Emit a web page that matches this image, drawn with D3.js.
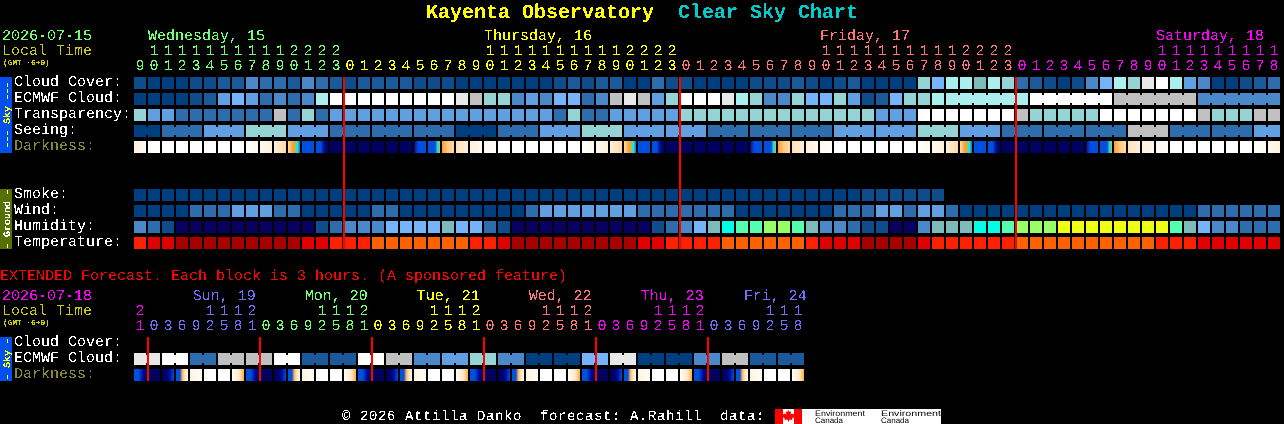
<!DOCTYPE html>
<html><head><meta charset="utf-8">
<script src="https://cdnjs.cloudflare.com/ajax/libs/d3/7.8.5/d3.min.js"></script>
<style>
html,body{margin:0;padding:0;background:#000;overflow:hidden}
svg{display:block}
text{font-family:"Liberation Mono",monospace;font-size:15px;white-space:pre;text-rendering:geometricPrecision}
</style></head><body><div id="chart"></div>
<script>
// palette index meaning: shared colour levels of the clear sky chart
const levels = ["#003F7F","#0E4C8C","#1A5A9A","#2D6CAD","#4A88CA","#5F9FE2","#75B4FA","#94D4D4","#ABEEEE","#FFFFFF","#E8E8E8","#C0C0C0","#7DBBBB","#070060","#00FFE6","#55FFB0","#99FF66","#EEFF14","#A80000","#E00000","#FF2000","#FF6000"];

const cloudCover = [1,0,0,0,1,1,2,2,4,3,3,2,4,3,2,1,2,2,2,2,1, 1,1,0,0,0,0,0,0,0,1,2,1,2,2,0,0,3,1,1,0,0,0,0,1,1,1,2,1,0,1,2, 0,0,0,0,7,6,8,8,12,8,7,3,2,1,0,1,4,6,8,7,10,9,8,5,4,0,0,1,2,3];
const ecmwf = [0,0,0,0,1,2,5,6,5,3,4,3,4,8,9,9,9,9,9,9,9, 9,9,10,11,7,7,4,5,4,6,6,3,4,11,10,11,5,7,9,9,9,10,8,7,4,4,7,6,6,7,5, 1,2,6,7,7,8,8,8,8,8,8,8,9,9,9,9,9,9,11,11,11,11,11,11,4,4,4,4,4,4];
const ecmwfGroups = [1,1,1,1,1,1,1,1,1,1,1,1,1,1,1,1,1,1,1,1,1,1,1,1,1,1,1,1,1,1,1,1,1,1,1,1,1,1,1,1,1,1,1,1,1,1,1,1,1,1,1,1,1,1,1,1,1,1,6,6,6,6];
const transparency = [7,5,5,3,3,3,3,3,3,3,11,3,7,3,5,5,5,5,5,5,5, 5,5,5,5,5,5,5,5,5,3,7,3,3,5,5,5,5,5,7,7,7,7,7,7,7,7,7,7,7,7,7, 7,5,5,5,9,9,9,9,9,9,9,11,7,7,7,7,7,9,9,9,9,9,9,9,11,7,7,7,11,11];
const seeing = [0,0,3,3,3,5,5,5,7,7,7,5,5,5,3,3,3,3,3,3,3,3,3,0,0,0,3,3,3,5,5,5,7,7,7,5,5,5,5,5,5,3,3,3,3,3,3,3,3,3,5,5,5,5,5,5,7,7,7,5,5,5,3,3,3,3,3,3,3,3,3,11,11,11,3,3,3,3,3,3,5,5];
const seeingGroups = [2,3,3,3,3,3,3,3,3,3,3,3,3,3,3,3,3,3,3,3,3,3,3,3,3,3,3,2];
const darkness = [[1,.3],[.3,0],[0,0],[0,0],[0,0],[0,0],[0,0],[0,0],[0,.5],[.5,1],[1,1.8],[1.8,2.4,3,3.3,4,4.6],[5,5],[5,5,5,5.8,6.4,6.9],
 [7,7],[7,7],[7,7],[7,7],[7,7],[7,7],[6.6,5.4,5,5,5,5],[5,5,5,5,4,3.2],
 [3,2.2,1.8],[1.6,1],[1,.5],[.5,0],[0,0],[0,0],[0,0],[0,0],[0,0],[0,0],[0,.5],[.5,1],[1,1.8],[1.8,2.4,3,3.3,4,4.6],[5,5],[5,5,5,5.8,6.4,6.9],
 [7,7],[7,7],[7,7],[7,7],[7,7],[7,7],[6.6,5.4,5,5,5,5],[5,5,5,5,4,3.2],
 [3,2.2,1.8],[1.6,1],[1,.5],[.5,0],[0,0],[0,0],[0,0],[0,0],[0,0],[0,0],[0,.5],[.5,1],[1,1.8],[1.8,2.4,3,3.3,4,4.6],[5,5],[5,5,5,5.8,6.4,6.9],
 [7,7],[7,7],[7,7],[7,7],[7,7],[7,7],[6.6,5.4,5,5,5,5],[5,5,5,5,4,3.2],
 [3,2.2,1.8],[1.6,1],[1,.5],[.5,0],[0,0],[0,0],[0,0],[0,0],[0,0],[0,0],[0,.5],[.5,1]];
const smoke = [0,0,0,0,0,0,0,0,0,0,0,0,0,0,0,0,0,0,0,0,0,0,0,0,0,0,0,0,0,0,0,0,0,0,0,0,0,0,0,0,0,0,0,0,0,0,0,0,0,0,0,0,1,1,1,1,1,1];
const wind = [0,0,0,0,3,3,3,5,5,5,3,3,0,0,0,0,0,3,3,0,0, 0,0,0,0,0,0,0,3,5,5,5,5,5,5,5,3,3,3,3,3,3,3,0,0,0,0,0,0,0,3,3, 3,5,5,3,5,5,3,0,0,0,0,0,0,0,0,0,0,0,0,0,0,0,0,0,3,3,3,3,3,3];
const humidity = [4,3,1,13,13,13,13,13,13,13,13,13,13,1,3,4,4,4,6,6,6, 6,12,6,6,3,1,13,13,13,13,13,13,13,13,13,13,1,3,4,6,12,14,15,15,16,16,15,12,4,4,3, 1,1,13,13,4,12,12,12,14,14,15,16,16,16,17,17,17,17,17,17,17,17,15,12,6,4,4,3,3,3];
const temperature = [20,19,19,18,18,18,18,18,18,18,18,18,19,19,20,20,20,21,21,21,21, 21,21,21,20,20,19,18,18,18,18,18,18,18,18,18,19,19,20,20,20,20,21,21,21,21,21,21,20,19,19,19, 18,18,18,18,19,20,20,20,20,20,20,21,21,21,21,21,21,21,21,21,21,20,20,20,19,19,19,19,19,19];

const extEcmwf = [10,10,9,9,3,3,11,11,11,11,9,9,2,2,2,2,9,9,11,11,4,4,5,5,7,7,4,4,0,0,0,0,6,6,10,10,0,0,0,0,4,4,11,11,2,2,2,2];
const extGroups = [2,2,2,2,2,2,2,2,2,2,2,2,2,2,2,2,2,2,2,2,2,2,2,2];
const extDarkCycle = [[5,5,5,5.6,6.2,6.5],[7,7],[7,7,6.8,6.2,5.6,5],[5,5,5,2.8,1.8,1,.8],[.8,.3],[0,0],[0,0],[.2,.8,1.4,2.8]];
const extDarkness = [...extDarkCycle,...extDarkCycle,...extDarkCycle,...extDarkCycle,...extDarkCycle,...extDarkCycle];

const darkStops = [0,1,2,3,4,4.6,5,6,7];
const darkColors = ["#FFFFFF","#FFF0DC","#FFD59A","#FF9F2A","#10E8D8","#0A70E8","#0050E0","#00089A","#000060"];

const hourStart = 9;
const dayColors = {wed:"#70FF70",thu:"#FFFF00",fri:"#FF7575",sat:"#FF00FF",sun:"#7070FF"};
const topDayNames = [["Wednesday, 15",1,"wed"],["Thursday, 16",25,"thu"],["Friday, 17",49,"fri"],["Saturday, 18",73,"sat"]];
const topBoundaries = [15,39,63];
const topColors = ["wed","thu","fri","sat"];
const extHours = [21,0,3,6,9,12,15,18,21,0,3,6,9,12,15,18,21,0,3,6,9,12,15,18,21,0,3,6,9,12,15,18,21,0,3,6,9,12,15,18,21,0,3,6,9,12,15,18];
const extDayNames = [["Sun, 19",4.2,"sun"],["Mon, 20",12.2,"wed"],["Tue, 21",20.2,"thu"],["Wed, 22",28.2,"fri"],["Thu, 23",36.2,"sat"],["Fri, 24",43.55,"sun"]];
const extBoundaries = [1,9,17,25,33,41];
const extColors = ["sat","sun","wed","thu","fri","sat","sun"];
const extNow = [1,9,17,25,33,41];

const W = 1284, H = 424;
const svg = d3.select("#chart").append("svg").attr("width",W).attr("height",H);
svg.append("rect").attr("width",W).attr("height",H).attr("fill","#000");
const defs = svg.append("defs");
const crisp = defs.append("filter").attr("id","crisp").attr("x","-5%").attr("y","-20%").attr("width","110%").attr("height","140%");
crisp.append("feComponentTransfer").append("feFuncA").attr("type","discrete").attr("tableValues","0 1");

const xCol = d3.scaleLinear().domain([0,82]).range([134,1282]);
const cell = 12, bridge = 8;
const darkScale = d3.scaleLinear().domain(darkStops).range(darkColors).interpolate(d3.interpolateRgb).clamp(true);

const cells = svg.append("g").attr("shape-rendering","crispEdges");
function drawRow(values, y, groups){
  const g = cells.append("g");
  g.selectAll("rect.c").data(values).join("rect").attr("class","c")
    .attr("x",(d,i)=>xCol(i)).attr("y",y).attr("width",cell).attr("height",cell)
    .attr("fill",d=>levels[d]);
  if(!groups) return;
  let pos=0; const links=[];
  groups.forEach(n=>{ for(let k=0;k<n-1;k++) links.push(pos+k); pos+=n; });
  g.selectAll("rect.b").data(links).join("rect").attr("class","b")
    .attr("x",i=>xCol(i)+cell).attr("y",y+2).attr("width",xCol(1)-xCol(0)-cell).attr("height",bridge)
    .attr("fill",i=>levels[values[i]]);
}
let gid=0;
function drawDark(values, y){
  const g = cells.append("g");
  values.forEach((stops,i)=>{
    const id="dk"+(gid++);
    const lg=defs.append("linearGradient").attr("id",id);
    stops.forEach((v,k)=>lg.append("stop").attr("offset",k/(stops.length-1)).attr("stop-color",darkScale(v)));
    g.append("rect").attr("x",xCol(i)).attr("y",y).attr("width",cell).attr("height",cell).attr("fill",`url(#${id})`);
  });
}

const yRow = d3.scaleLinear().domain([0,1]).range([77,93]);
drawRow(cloudCover,yRow(0));
drawRow(ecmwf,yRow(1),ecmwfGroups);
drawRow(transparency,yRow(2));
drawRow(seeing,yRow(3),seeingGroups);
drawDark(darkness,yRow(4));
drawRow(smoke,yRow(7));
drawRow(wind,yRow(8));
drawRow(humidity,yRow(9));
drawRow(temperature,yRow(10));
const yExt = d3.scaleLinear().domain([0,1]).range([337,353]);
drawRow(extEcmwf,yExt(1),extGroups);
drawDark(extDarkness,yExt(2));

// now lines
const lines = svg.append("g").attr("shape-rendering","crispEdges");
lines.selectAll("rect.t").data(topBoundaries).join("rect").attr("class","t")
  .attr("x",d=>xCol(d)-1).attr("y",77).attr("width",2).attr("height",172).attr("fill","#FF0000");
lines.selectAll("rect.e").data(extNow).join("rect").attr("class","e")
  .attr("x",d=>xCol(d)-1).attr("y",337).attr("width",2).attr("height",44).attr("fill","#FF0000");

// side bars
const bars = svg.append("g").attr("shape-rendering","crispEdges");
bars.append("rect").attr("x",0).attr("y",77).attr("width",12).attr("height",76).attr("fill","#0050F0");
bars.append("rect").attr("x",0).attr("y",189).attr("width",12).attr("height",60).attr("fill","#567000");
bars.append("rect").attr("x",0).attr("y",337).attr("width",12).attr("height",44).attr("fill","#0050F0");

const tx = svg.append("g").attr("filter","url(#crisp)");
function t(s,x,y,c,o={}){
  const e=tx.append("text").text(s).attr("x",x).attr("y",y).attr("fill",c);
  if(o.size) e.style("font-size",o.size+"px");
  if(o.weight) e.style("font-weight",o.weight);
  if(o.anchor) e.attr("text-anchor",o.anchor);
  if(o.spacing) e.style("letter-spacing",o.spacing+"px");
  if(o.rot) e.attr("transform",`rotate(${o.rot} ${x} ${y})`);
  return e;
}
// title
t("Kayenta Observatory",426,18,"#FFFF00",{size:20,weight:"bold"});
t("Clear Sky Chart",678,18,"#00CCCC",{size:20,weight:"bold"});
// top left
t("2026-07-15",2,40,dayColors.wed);
t("Local Time",2,55,"#CCCC00");
t("(GMT -6+0)",3,65,"#CCCC00",{size:7.8,weight:"bold"});
["Cloud Cover:","ECMWF Cloud:","Transparency:","Seeing:","Darkness:"].forEach((s,i)=>
  t(s,14,yRow(i)+9,i==4?"#888833":"#FFFFFF"));
["Smoke:","Wind:","Humidity:","Temperature:"].forEach((s,i)=>t(s,14,yRow(7+i)+9,"#FFFFFF"));
t("--- Sky ---",9.5,115,"#FFFF00",{size:10,weight:"bold",anchor:"middle",rot:-90});
t("- Ground -",9.5,219,"#FFFFFF",{size:10,weight:"bold",anchor:"middle",rot:-90});
t("- Sky -",9.5,359,"#FFFF00",{size:10,weight:"bold",anchor:"middle",rot:-90});

// top hours
const colorAt=(i,bounds,names)=>dayColors[names[d3.bisectRight(bounds,i)]];
d3.range(82).forEach(i=>{
  const h=(hourStart+i)%24, c=colorAt(i,topBoundaries,topColors), cx=xCol(i)+cell/2;
  t(String(h%10),cx,70,c,{anchor:"middle"});
  if(h>=10) t(String(Math.floor(h/10)),cx,55,c,{anchor:"middle"});
});
topDayNames.forEach(([s,col,k])=>t(s,xCol(col),40,dayColors[k]));

// extended
t("EXTENDED Forecast. Each block is 3 hours. (A sponsored feature)",0,280,"#FF0000");
t("2026-07-18",2,300,dayColors.sat);
t("Local Time",2,315,"#CCCC00");
t("(GMT -6+0)",3,325,"#CCCC00",{size:7.8,weight:"bold"});
["Cloud Cover:","ECMWF Cloud:","Darkness:"].forEach((s,i)=>t(s,14,yExt(i)+9,i==2?"#888833":"#FFFFFF"));
extHours.forEach((h,i)=>{
  const c=colorAt(i,extBoundaries,extColors), cx=xCol(i)+cell/2;
  t(String(h%10),cx,330,c,{anchor:"middle"});
  if(h>=10) t(String(Math.floor(h/10)),cx,315,c,{anchor:"middle"});
});
extDayNames.forEach(([s,col,k])=>t(s,xCol(col),300,dayColors[k]));

// footer
t("© 2026 Attilla Danko  forecast: A.Rahill  data:",342,420,"#FFFFFF",{size:14,spacing:.6});
const logo = svg.append("g");
logo.append("rect").attr("x",775).attr("y",409).attr("width",166).attr("height",15).attr("fill","#fff").attr("shape-rendering","crispEdges");
logo.append("rect").attr("x",775).attr("y",409).attr("width",8).attr("height",15).attr("fill","#f00").attr("shape-rendering","crispEdges");
logo.append("rect").attr("x",794).attr("y",409).attr("width",8).attr("height",15).attr("fill","#f00").attr("shape-rendering","crispEdges");
logo.append("path").attr("d","M788.5 410.5l1.2 2 1.4-.6-.5 3 1.6-1.2 .5 1 2-.3-.7 2 .8 .6-2.8 2.2 .3 1.2-2.9-.4-.4 2h-1l-.4-2-2.9 .4 .3-1.2-2.8-2.2 .8-.6-.7-2 2 .3 .5-1 1.6 1.2-.5-3 1.4 .6z").attr("fill","#f00").attr("transform","translate(0,-.5)");
[815,881].forEach(x=>{
  logo.append("text").text("Environment").attr("x",x).attr("y",416).attr("fill","#000").style("font-family","'Liberation Sans'").style("font-size","8px").attr("textLength",x==815?50:60).attr("lengthAdjust","spacingAndGlyphs");
  logo.append("text").text("Canada").attr("x",x).attr("y",423).attr("fill","#000").style("font-family","'Liberation Sans'").style("font-size","8px").attr("textLength",28).attr("lengthAdjust","spacingAndGlyphs");
});
</script></body></html>
